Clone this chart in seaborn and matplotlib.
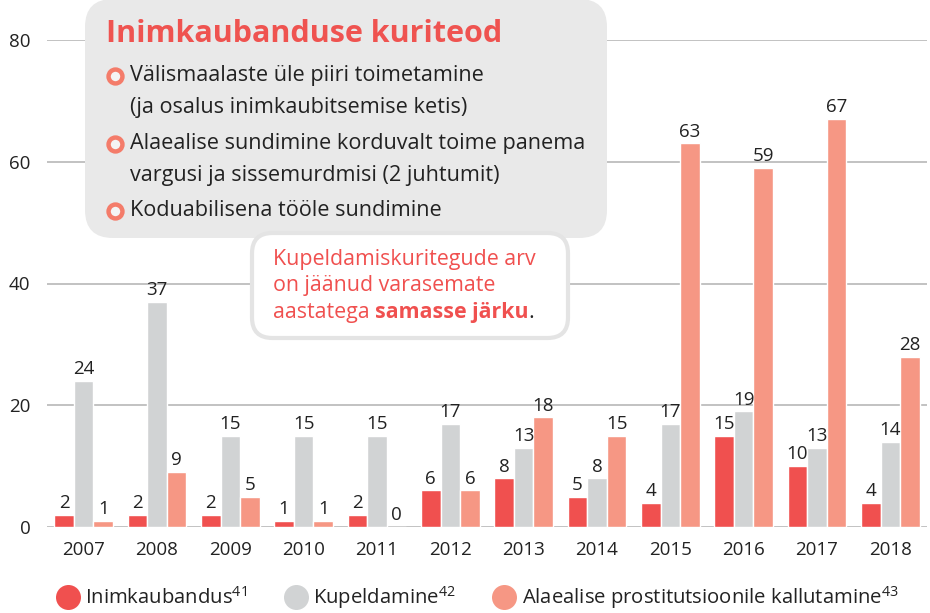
import pandas as pd
import seaborn as sns
import matplotlib.pyplot as plt
from matplotlib.patches import FancyBboxPatch
from matplotlib.lines import Line2D

# data
years = ["2007", "2008", "2009", "2010", "2011", "2012",
         "2013", "2014", "2015", "2016", "2017", "2018"]
inimkaubandus = [2, 2, 2, 1, 2, 6, 8, 5, 4, 15, 10, 4]
kupeldamine = [24, 37, 15, 15, 15, 17, 13, 8, 17, 19, 13, 14]
alaealise = [1, 9, 5, 1, 0, 6, 18, 15, 63, 59, 67, 28]
series = ["Inimkaubandus", "Kupeldamine", "Alaealise prostitutsioonile kallutamine"]
legend_labels = ["Inimkaubandus$^{41}$", "Kupeldamine$^{42}$",
                 "Alaealise prostitutsioonile kallutamine$^{43}$"]
colors = ["#F0504F", "#D1D3D4", "#F69784"]

df = pd.DataFrame({"Aasta": years * 3,
                   "Seeria": [series[0]] * 12 + [series[1]] * 12 + [series[2]] * 12,
                   "Arv": inimkaubandus + kupeldamine + alaealise})

sns.set_theme(style="white")
plt.rcParams["font.family"] = ["Open Sans", "DejaVu Sans"]
plt.rcParams["mathtext.fontset"] = "custom"
plt.rcParams["mathtext.rm"] = "Open Sans"
plt.rcParams["mathtext.default"] = "regular"

W, H = 930, 613
fig = plt.figure(figsize=(9.3, 6.13), dpi=100)
ax = fig.add_axes([47 / W, (H - 527) / H, 880 / W, 487 / H])


def px(x, y):
    return x / W, 1 - y / H


sns.barplot(data=df, x="Aasta", y="Arv", hue="Seeria", palette=colors,
            width=0.8, saturation=1, ax=ax, legend=False, zorder=2)
for c in ax.containers:
    ax.bar_label(c, fmt="%d", padding=2, fontsize=13.5, color="#222222")

ax.set_ylim(0, 80)
ax.set_xlim(-0.5, 11.5)
ax.set_yticks([0, 20, 40, 60, 80])
ax.yaxis.grid(True, color="#BDBDBD", linewidth=1.3, zorder=0)
ax.set_axisbelow(True)
for s in ax.spines.values():
    s.set_visible(False)
ax.set_xlabel("")
ax.set_ylabel("")
ax.tick_params(axis="both", length=0, labelsize=13.5, labelcolor="#222222")
ax.tick_params(axis="y", pad=12)
ax.tick_params(axis="x", pad=10)

# title box
box = FancyBboxPatch(px(85, 238), (607 - 85) / W, (238 + 1) / H,
                     boxstyle="round,pad=0,rounding_size=0.03",
                     transform=fig.transFigure, facecolor="#E9E9E9",
                     edgecolor="none", zorder=5, mutation_aspect=W / H)
fig.patches.append(box)
callout = FancyBboxPatch(px(252, 338), (568 - 252) / W, (338 - 233) / H,
                         boxstyle="round,pad=0,rounding_size=0.022",
                         transform=fig.transFigure, facecolor="white",
                         edgecolor="#E4E4E4", linewidth=3, zorder=6,
                         mutation_aspect=W / H)
fig.patches.append(callout)

fig.text(*px(106, 34), "Inimkaubanduse kuriteod", fontsize=22, fontweight="bold",
         color="#EF5350", va="center", zorder=7)
lines = ["Välismaalaste üle piiri toimetamine",
         "(ja osalus inimkaubitsemise ketis)",
         "Alaealise sundimine korduvalt toime panema",
         "vargusi ja sissemurdmisi (2 juhtumit)",
         "Koduabilisena tööle sundimine"]
line_y = [76, 108, 144, 176, 211]
for t, y in zip(lines, line_y):
    fig.text(*px(130, y), t, fontsize=15.6, color="#222222", va="center", zorder=7)
for y in [line_y[0], line_y[2], line_y[4]]:
    fig.lines.append(Line2D([px(115, y)[0]], [px(115, y)[1]], transform=fig.transFigure,
                            marker="o", markersize=10, markerfacecolor="#F4F4F4",
                            markeredgecolor="#F47C6A", markeredgewidth=3.2, zorder=7))

red = "#F0504F"
fs = 15.4
fig.text(*px(273, 259), "Kupeldamiskuritegude arv", fontsize=fs, color=red,
         va="center", zorder=7)
fig.text(*px(273, 286), "on jäänud varasemate", fontsize=fs, color=red,
         va="center", zorder=7)
t1 = fig.text(*px(273, 313), "aastatega ", fontsize=fs, color=red, va="center", zorder=7)
fig.canvas.draw()
x1 = t1.get_window_extent().x1 / W
t2 = fig.text(x1, px(0, 313)[1], "samasse järku", fontsize=fs, color=red,
              fontweight="bold", va="center", zorder=7)
fig.canvas.draw()
x2 = t2.get_window_extent().x1 / W
fig.text(x2, px(0, 313)[1], ".", fontsize=fs, color="#222222", va="center", zorder=7)

handles = [Line2D([], [], marker="o", linestyle="", markersize=18,
                  markerfacecolor=c, markeredgecolor="none") for c in colors]
fig.legend(handles, legend_labels, loc="center", bbox_to_anchor=(0.513, 1 - 598 / H),
           ncol=3, frameon=False, fontsize=14.6, handletextpad=0.25, columnspacing=1.8,
           handlelength=1.2, labelcolor="#222222", borderpad=0.2)

fig.savefig("out.png", dpi=100)
